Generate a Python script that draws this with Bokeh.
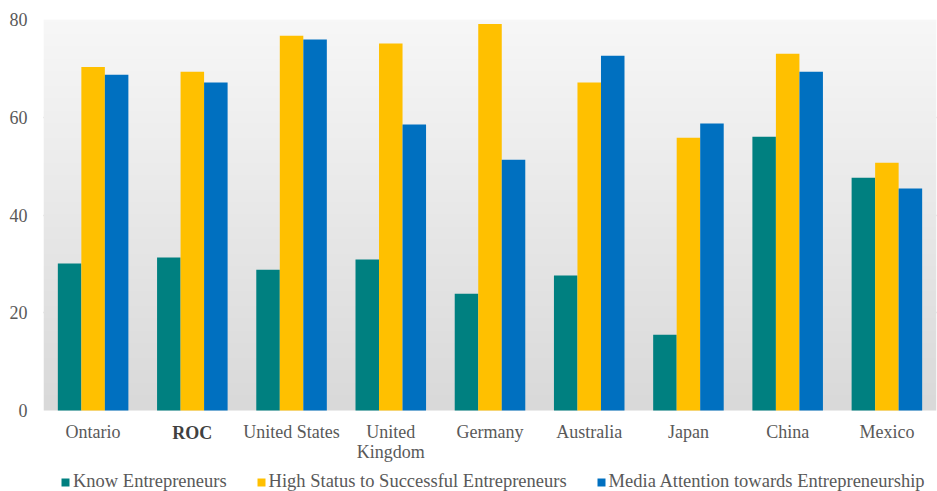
import numpy as np
from bokeh.plotting import figure
from bokeh.models import (ColumnDataSource, Range1d, Legend, LegendItem, Label,
                          FixedTicker, LinearAxis)
from bokeh.embed import file_html
from bokeh.resources import INLINE

# Survey results by region (percent of respondents)
regions = ["Ontario", "ROC", "United States", "United Kingdom", "Germany",
           "Australia", "Japan", "China", "Mexico"]
know_entrepreneurs = [30.1, 31.3, 28.8, 30.9, 23.9, 27.6, 15.5, 56.0, 47.6]
high_status = [70.3, 69.3, 76.7, 75.1, 79.1, 67.1, 55.8, 73.0, 50.7]
media_attention = [68.7, 67.1, 75.9, 58.5, 51.3, 72.6, 58.7, 69.3, 45.4]
series_names = ["Know Entrepreneurs",
                "High Status to Successful Entrepreneurs",
                "Media Attention towards Entrepreneurship"]
y_ticks = [0, 20, 40, 60, 80]

colors = ["#008080", "#FFC000", "#0070C0"]
FONT = "Liberation Serif"
TEXT_COLOR = "#595959"

centers = [i + 0.5 for i in range(len(regions))]
bw = 0.237

# The frame runs down to the bottom of the canvas so that the category
# labels and the legend sit inside it; 0..80 occupies the top 391 px.
TOP, PLOT_H, BOTTOM = 19, 391, 81
y_min = -80 * BOTTOM / PLOT_H

p = figure(width=937, height=491, output_backend="svg", toolbar_location=None,
           x_range=Range1d(0, len(regions)), y_range=Range1d(y_min, 80),
           x_axis_location=None,
           min_border_left=43, min_border_right=1, min_border_top=TOP,
           min_border_bottom=0)
p.outline_line_color = None
p.border_fill_color = "white"
p.background_fill_color = "white"

# vertical grey gradient behind the bars
shades = np.linspace(217, 247, 128).astype(np.uint32)
grad = (np.uint32(255) << 24) | (shades << 16) | (shades << 8) | shades
grad = np.ascontiguousarray(np.repeat(grad.reshape(128, 1), 2, axis=1))
p.image_rgba(image=[grad], x=0, y=0, dw=len(regions), dh=80)

renderers = []
for i, (vals, c) in enumerate(zip([know_entrepreneurs, high_status, media_attention], colors)):
    src = ColumnDataSource(dict(x=[cx + (i - 1) * bw for cx in centers], top=vals))
    r = p.vbar(x="x", top="top", width=bw, source=src, fill_color=c, line_color=None)
    renderers.append(r)

p.ygrid.ticker = FixedTicker(ticks=y_ticks[1:])
p.ygrid.grid_line_color = "#a6a6a6"
p.ygrid.grid_line_width = 1.6
p.ygrid.level = "underlay"
p.xgrid.grid_line_color = None

p.yaxis.ticker = FixedTicker(ticks=y_ticks)

# category axis pinned at y = 0
xaxis = LinearAxis(fixed_location=0, ticker=FixedTicker(ticks=centers))
p.add_layout(xaxis, "below")
labels = {c: name for c, name in zip(centers, regions)}
labels[centers[regions.index("United Kingdom")]] = "United\nKingdom"
labels[centers[regions.index("ROC")]] = ""
xaxis.major_label_overrides = labels
xaxis.major_label_text_line_height = 1.0

for ax in (xaxis, p.yaxis[0]):
    ax.axis_line_color = None
    ax.major_tick_line_color = None
    ax.minor_tick_line_color = None
    ax.major_label_text_font = FONT
    ax.major_label_text_font_size = "18px"
    ax.major_label_text_color = TEXT_COLOR
p.yaxis.major_label_standoff = 10
xaxis.major_label_standoff = 5

# ROC is set in bold
p.add_layout(Label(x=centers[regions.index("ROC")], y=0, y_offset=-12,
                   text="ROC", text_font=FONT, text_font_size="18px",
                   text_font_style="bold", text_color="#404040",
                   text_align="center", text_baseline="top"))

legend = Legend(items=[LegendItem(label=n, renderers=[r]) for n, r in zip(series_names, renderers)],
                orientation="horizontal", location=(17, -1), spacing=29,
                label_standoff=3, glyph_width=10, glyph_height=10,
                padding=2, margin=0, border_line_color=None,
                background_fill_alpha=0, label_text_font=FONT,
                label_text_font_size="18.5px", label_text_color=TEXT_COLOR)
p.add_layout(legend)

open("out.html", "w").write(file_html(p, INLINE))
